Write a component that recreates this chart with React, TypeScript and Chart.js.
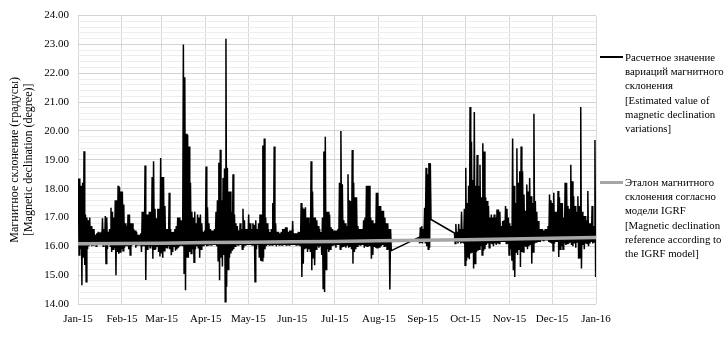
import { useEffect, useRef } from 'react';
import { Chart, registerables } from 'chart.js';

Chart.register(...registerables);

// Month boundaries (day-of-year, Jan 1 2015 = 0) and their tick labels
const monthStarts = [0, 31, 59, 90, 120, 151, 181, 212, 243, 273, 304, 334, 365];
const monthLabels = ['Jan-15', 'Feb-15', 'Mar-15', 'Apr-15', 'May-15', 'Jun-15', 'Jul-15', 'Aug-15', 'Sep-15', 'Oct-15', 'Nov-15', 'Dec-15', 'Jan-16'];

// Y axis labelled ticks
const yTickValues = [14, 15, 16, 17, 18, 19, 20, 21, 22, 23, 24];

// IGRF reference value at each month start
const igrfValues = [16.09, 16.1, 16.11, 16.13, 16.14, 16.16, 16.17, 16.19, 16.21, 16.23, 16.25, 16.28, 16.31];

// Estimated declination: daily maximum (null = no data)
const dailyMax: (number | null)[] = [
  18.35, 18.35, 18.1, 18.2, 19.3, 17.1, 17.0, 16.9, 17.0, 16.7,
  16.6, 16.6, 16.4, 16.45, 16.5, 16.45, 16.5, 16.97, 16.6, 17.05,
  17.0, 16.5, 16.6, 17.34, 17.2, 17.0, 17.6, 17.6, 18.1, 18.05,
  17.9, 17.9, 17.45, 16.8, 16.7, 17.1, 17.1, 16.8, 16.8, 16.6,
  16.55, 16.5, 16.4, 16.4, 16.45, 17.2, 17.2, 18.8, 17.1, 17.1,
  17.2, 17.2, 18.4, 18.95, 17.3, 16.97, 17.3, 17.3, 19.06, 18.4,
  18.4, 17.4, 16.6, 16.6, 17.86, 16.6, 16.5, 16.5, 16.6, 16.7,
  17.0, 17.0, 16.9, 16.9, 23.0, 21.86, 19.9, 19.87, 19.46, 18.2,
  17.2, 17.0, 17.2, 16.8, 17.1, 17.0, 17.1, 16.8, 16.5, 16.55,
  18.77, 17.35, 16.8, 16.6, 16.55, 16.55, 16.6, 17.2, 17.6, 18.9,
  19.35, 17.6, 18.37, 18.7, 23.2, 18.72, 17.9, 17.9, 17.2, 18.5,
  17.1, 16.8, 16.7, 16.55, 16.8, 16.6, 17.3, 16.9, 16.6, 16.6,
  17.1, 16.8, 16.6, 16.8, 16.75, 16.9, 16.6, 16.8, 17.1, 17.1,
  19.5, 19.74, 17.0, 16.8, 16.6, 16.5, 16.6, 17.5, 19.46, 16.8,
  16.5, 16.5, 16.45, 16.5, 16.6, 16.6, 16.66, 16.66, 16.5, 16.55,
  16.55, 16.88, 16.45, 16.45, 16.45, 16.5, 16.5, 17.5, 17.35, 17.3,
  17.35, 17.0, 17.0, 16.8, 18.95, 17.9, 17.0, 17.0, 16.9, 16.7,
  16.6, 16.5, 17.0, 19.29, 19.8, 17.2, 17.2, 17.1, 16.66, 16.6,
  16.55, 16.55, 16.55, 16.6, 18.2, 20.0, 18.15, 16.9, 16.8, 16.7,
  18.5, 17.6, 17.57, 19.34, 18.2, 17.7, 17.7, 16.7, 16.6, 16.6,
  16.6, 16.9, 17.0, 18.1, 18.1, 18.1, 17.0, 16.9, 16.8, 16.8,
  17.86, 17.86, 17.4, 17.4, 17.23, 17.23, 17.0, 16.8, 16.8, 16.6,
  16.6, null, null, null, null, null, null, null, null, null,
  null, null, null, null, null, null, null, null, null, null,
  16.31, 16.66, 16.7, 16.6, 17.34, 18.72, 18.5, 18.89, 18.88, null,
  null, null, null, null, null, null, null, null, null, null,
  null, null, null, null, null, 16.46, 16.77, 16.5, 16.77, 16.6,
  17.2, 16.6, 17.3, 18.72, 17.5, 18.1, 20.83, 19.63, 18.3, 20.66,
  18.1, 19.17, 18.09, 18.83, 17.7, 19.57, 19.29, 17.7, 17.57, 17.4,
  17.0, 17.1, 17.0, 17.1, 17.0, 17.28, 17.28, 17.2, 16.7, 16.88,
  16.9, 17.4, 17.3, 17.0, 16.8, 16.7, 19.74, 18.1, 17.5, 19.4,
  18.2, 18.6, 19.46, 18.6, 17.8, 17.23, 18.14, 17.9, 18.37, 17.74,
  17.5, 20.6, 17.57, 17.2, 16.88, 16.6, 16.6, 16.6, 16.55, 16.6,
  16.6, 16.7, 17.8, 17.6, 17.5, 17.86, 17.2, 17.2, 17.92, 17.7,
  17.5, 17.5, 17.0, 18.2, 18.2, 17.4, 17.3, 18.83, 18.26, 17.74,
  17.4, 17.2, 17.74, 17.4, 20.83, 17.2, 17.05, 17.05, 16.9, 17.92,
  16.8, 16.8, 17.4, 16.7, 19.69,
];

// Estimated declination: daily minimum (null = no data)
const dailyMin: (number | null)[] = [
  15.7, 15.9, 14.65, 15.6, 15.35, 14.77, 15.9, 16.0, 16.05, 16.0,
  16.05, 16.05, 16.0, 16.05, 16.05, 16.05, 16.05, 16.0, 16.05, 15.4,
  15.9, 16.05, 16.0, 15.8, 15.9, 15.95, 15.0, 15.8, 15.74, 15.8,
  15.9, 15.85, 15.95, 16.0, 16.0, 15.9, 15.7, 16.0, 16.05, 16.05,
  15.95, 16.05, 16.05, 16.05, 15.8, 16.0, 16.0, 14.83, 15.9, 16.0,
  15.95, 16.0, 15.57, 15.9, 15.9, 16.0, 15.8, 15.65, 15.75, 15.6,
  15.85, 15.95, 15.95, 16.0, 15.9, 15.69, 15.8, 16.0, 15.85, 15.9,
  15.95, 16.0, 16.05, 16.0, 15.07, 14.48, 15.6, 15.6, 15.8, 15.75,
  15.9, 15.45, 15.9, 16.0, 15.95, 15.6, 15.9, 16.0, 16.0, 16.05,
  16.0, 16.05, 16.05, 16.05, 16.05, 16.05, 16.05, 16.0, 15.5, 14.82,
  15.6, 15.3, 15.7, 14.08, 14.6, 15.2, 15.6, 15.75, 15.85, 15.9,
  16.0, 16.05, 16.05, 16.05, 16.05, 15.9, 15.95, 16.05, 16.05, 16.05,
  16.05, 16.05, 16.05, 16.05, 14.77, 15.9, 16.05, 15.6, 15.5, 15.5,
  15.6, 15.9, 16.0, 16.05, 16.05, 16.05, 16.05, 16.05, 16.05, 16.0,
  16.05, 16.05, 16.05, 16.05, 16.05, 16.05, 16.05, 16.05, 16.05, 16.05,
  16.05, 16.05, 16.05, 16.05, 16.05, 16.05, 16.0, 14.94, 15.4, 15.9,
  15.95, 15.8, 15.9, 15.8, 15.17, 15.6, 15.34, 15.9, 16.0, 15.95,
  16.0, 15.7, 14.54, 14.42, 15.2, 15.9, 15.8, 15.9, 16.0, 16.05,
  16.05, 15.95, 16.05, 16.05, 15.9, 15.95, 16.0, 16.0, 15.95, 16.05,
  15.95, 16.0, 15.9, 15.4, 15.8, 15.9, 16.0, 16.05, 16.05, 16.05,
  16.05, 15.95, 16.0, 16.0, 16.0, 16.0, 15.57, 15.7, 16.0, 15.95,
  15.95, 15.95, 15.95, 16.0, 16.05, 16.0, 16.0, 15.9, 15.9, 14.5,
  15.85, null, null, null, null, null, null, null, null, null,
  null, null, null, null, null, null, null, null, null, null,
  16.1, 16.15, 16.1, 16.15, 16.1, 16.0, 15.9, 15.95, 16.93, null,
  null, null, null, null, null, null, null, null, null, null,
  null, null, null, null, null, 16.1, 16.15, 16.1, 16.15, 16.1,
  16.15, 16.1, 15.34, 15.5, 15.6, 15.55, 15.75, 15.8, 15.23, 15.4,
  15.8, 15.85, 15.9, 16.0, 15.7, 15.85, 15.9, 16.05, 16.1, 15.95,
  16.1, 16.1, 16.0, 16.1, 16.05, 16.1, 16.1, 16.15, 16.15, 16.15,
  16.15, 16.1, 16.1, 15.7, 15.9, 15.5, 15.17, 14.94, 15.8, 15.7,
  15.9, 15.28, 15.8, 15.8, 16.0, 16.0, 15.9, 16.0, 16.05, 15.4,
  15.8, 16.1, 16.15, 16.15, 16.15, 16.15, 16.2, 16.2, 16.2, 16.2,
  16.2, 16.15, 16.15, 16.1, 15.85, 16.1, 16.15, 16.15, 15.63, 15.9,
  16.0, 15.9, 16.1, 16.05, 16.1, 16.1, 16.15, 16.05, 16.0, 16.1,
  15.95, 16.15, 15.57, 15.6, 15.23, 16.05, 15.9, 16.1, 16.1, 16.0,
  16.1, 16.15, 16.1, 16.15, 14.94,
];

const legendEstimated = [
  'Расчетное значение',
  'вариаций магнитного',
  'склонения',
  '[Estimated value of',
  'magnetic declination',
  'variations]',
];
const legendIgrf = [
  'Эталон магнитного',
  'склонения согласно',
  'модели IGRF',
  '[Magnetic declination',
  'reference according to',
  'the IGRF model]',
];
const yTitle = ['Магнитное склонение (градусы)', '[Magnetic declination (degree)]'];

const FONT = "'Liberation Serif', 'Times New Roman', serif";

export default function App() {
  const ref = useRef<HTMLCanvasElement>(null);

  useEffect(() => {
    document.body.style.margin = '0';
    const points: { x: number; y: number }[] = [];
    for (let d = 0; d < dailyMax.length; d++) {
      const hi = dailyMax[d];
      const lo = dailyMin[d];
      if (hi == null || lo == null) continue;
      points.push({ x: d + 0.25, y: hi }, { x: d + 0.75, y: lo });
    }
    const igrfPoints = monthStarts.map((d, i) => ({ x: d, y: igrfValues[i] }));

    const yMin = yTickValues[0];
    const yMax = yTickValues[yTickValues.length - 1];

    const chart = new Chart(ref.current as HTMLCanvasElement, {
      type: 'line',
      data: {
        datasets: [
          {
            label: 'IGRF',
            data: igrfPoints,
            borderColor: '#a6a6a6',
            borderWidth: 3.5,
            pointRadius: 0,
            tension: 0,
            order: 0,
          },
          {
            label: 'Estimated',
            data: points,
            borderColor: '#000000',
            borderWidth: 1.5,
            pointRadius: 0,
            tension: 0,
            order: 1,
          },
        ],
      },
      options: {
        animation: false,
        responsive: false,
        events: [],
        plugins: { legend: { display: false }, tooltip: { enabled: false } },
        layout: { padding: { left: 0, right: 132, top: 13, bottom: 0 } },
        scales: {
          x: {
            type: 'linear',
            min: monthStarts[0],
            max: monthStarts[monthStarts.length - 1],
            afterBuildTicks: (s: any) => {
              s.ticks = monthStarts.map((v) => ({ value: v }));
            },
            afterFit: (s: any) => {
              s.height = 33;
            },
            ticks: {
              autoSkip: false,
              maxRotation: 0,
              padding: 9,
              color: '#000',
              font: { family: FONT, size: 11 },
              callback: (v: any) => {
                const i = monthStarts.indexOf(Number(v));
                return i >= 0 ? monthLabels[i] : '';
              },
            },
            grid: { color: '#d9d9d9', drawTicks: false },
            border: { display: false },
          },
          y: {
            type: 'linear',
            min: yMin,
            max: yMax,
            afterBuildTicks: (s: any) => {
              const t: { value: number }[] = [];
              for (let i = 0; i < yTickValues.length - 1; i++) {
                for (let k = 0; k < 5; k++) t.push({ value: yTickValues[i] + k * 0.2 });
              }
              t.push({ value: yMax });
              s.ticks = t;
            },
            afterFit: (s: any) => {
              s.width = 78;
            },
            ticks: {
              autoSkip: false,
              padding: 9,
              color: '#000',
              font: { family: FONT, size: 11 },
              callback: (v: any) => {
                const n = Number(v);
                return Math.abs(n - Math.round(n)) < 1e-6 ? n.toFixed(2) : '';
              },
            },
            grid: {
              drawTicks: false,
              color: (ctx: any) => {
                const v = ctx.tick ? ctx.tick.value : 0;
                return Math.abs(v - Math.round(v)) < 1e-6 ? '#d4d4d4' : '#ededed';
              },
            },
            border: { display: false },
            title: {
              display: true,
              text: yTitle,
              color: '#000',
              font: { family: FONT, size: 12, lineHeight: 1.15 },
              padding: { top: 8, bottom: 0 },
            },
          },
        },
      },
    });
    return () => chart.destroy();
  }, []);

  const textStyle: React.CSSProperties = {
    position: 'absolute',
    left: 625,
    fontFamily: FONT,
    fontSize: 10.8,
    lineHeight: '14.2px',
    color: '#000',
    whiteSpace: 'nowrap',
  };

  return (
    <div style={{ position: 'relative', width: 728, height: 337, background: '#fff' }}>
      <canvas ref={ref} width={728} height={337} style={{ display: 'block' }} />
      <div style={{ position: 'absolute', left: 600, top: 56, width: 23, height: 2, background: '#000' }} />
      <div style={{ ...textStyle, top: 50 }}>
        {legendEstimated.map((t) => (
          <div key={t}>{t}</div>
        ))}
      </div>
      <div style={{ position: 'absolute', left: 600, top: 181, width: 23, height: 3, background: '#a6a6a6' }} />
      <div style={{ ...textStyle, top: 175 }}>
        {legendIgrf.map((t) => (
          <div key={t}>{t}</div>
        ))}
      </div>
    </div>
  );
}
